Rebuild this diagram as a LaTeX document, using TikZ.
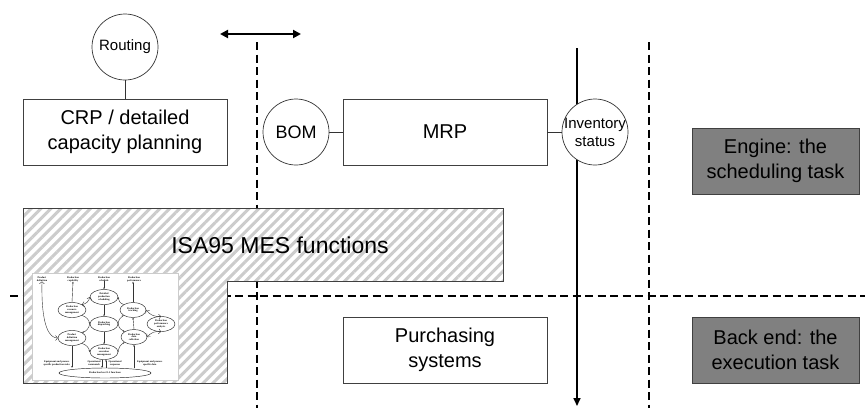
\documentclass[tikz,border=0pt]{standalone}
\usepackage{fontspec}
\setmainfont{Liberation Sans}
\newfontfamily\modelfont{Liberation Serif}
\usetikzlibrary{arrows.meta,patterns.meta,shapes.geometric,positioning}

\begin{document}
\begin{tikzpicture}[x=1pt, y=-1pt,
  box/.style={draw=black!75, line width=0.8pt, fill=white, minimum width=204pt,
    minimum height=66pt, align=center, font=\fontsize{20}{25}\selectfont},
  task/.style={box, fill=black!50, draw=black!75, minimum width=167pt},
  disc/.style={circle, draw=black!80, line width=0.7pt, fill=white,
    minimum size=66pt, inner sep=0pt, font=\fontsize{15}{18}\selectfont},
  link/.style={draw=black!80, line width=0.7pt},
  divider/.style={line width=2.6pt, dash pattern=on 8pt off 4.5pt},
  % the small ISA-95 activity model
  act/.style={ellipse, draw=black!85, line width=0.45pt, fill=white, minimum width=28pt,
    minimum height=15pt, inner sep=0pt, align=center,
    font=\modelfont\bfseries\fontsize{2.5}{2.8}\selectfont},
  tag/.style={align=center, inner sep=0pt,
    font=\modelfont\bfseries\fontsize{2.5}{2.8}\selectfont},
  flow/.style={-{Stealth[length=1.8pt,width=1.6pt]}, draw=black!80, line width=0.4pt}]

  \useasboundingbox (0,0) rectangle (865,408);

  % layer dividers
  \coordinate (v1 top) at (257,42);
  \coordinate (v1 end) at (257,408);
  \coordinate (v2 top) at (649,42);
  \coordinate (v2 end) at (649,408);
  \coordinate (h left) at (10,296);
  \coordinate (h right) at (865,296);
  \draw[divider] (v1 top) -- (v1 end);
  \draw[divider] (v2 top) -- (v2 end);
  \draw[divider] (h left) -- (h right);

  % MES area
  \draw[draw=black!75, line width=0.8pt, preaction={fill=white},
    pattern={Lines[angle=45, distance=7pt, line width=3pt]}, pattern color=black!20]
    (23,208) -- (503,208) -- (503,281) -- (227,281) -- (227,383) -- (23,383) -- cycle;
  \node[font=\fontsize{23}{28}\selectfont] (mes) at (280,245) {ISA95 MES functions};

  \draw[black!20, line width=0.4pt, fill=white] (32,273) rectangle (178,380);
  \node[tag] (pd) at (42,279) {Product\\definition};
  \node[tag] (pc) at (73,279) {Production\\capability};
  \node[tag] (ps) at (104,279) {Production\\schedule};
  \node[tag] (pp) at (134,279) {Production\\performance};
  \node[act] (dps) at (104,297) {Detailed\\production\\scheduling};
  \node[act] (prm) at (72,310) {Production\\resource\\management};
  \node[act, minimum width=26pt] (ptr) at (133,310) {Production\\tracking};
  \node[act] (ppa) at (161,324) {Production\\performance\\analysis};
  \node[act] (pdi) at (104,324) {Production\\dispatching};
  \node[act] (pdm) at (72,338) {Product\\definition\\management};
  \node[act, minimum width=26pt] (pdc) at (134,337) {Production\\data\\collection};
  \node[act] (pem) at (104,352) {Production\\execution\\management};
  \node[act, minimum width=92pt, minimum height=10pt] (lvl) at (105,373)
    {Production level 1-2 functions};
  \node[tag, anchor=east] (rules) at (70,363) {Equipment and process\\specific production rules};
  \node[tag] (cmd) at (94,363) {Operational\\commands};
  \node[tag] (rsp) at (115,363) {Operational\\responses};
  \node[tag, anchor=west] (data) at (137,363) {Equipment and process\\specific data};

  \draw[flow, <->] (pd.south) .. controls (41,328) and (50,338) .. (pdm.west);
  \draw[flow] (prm.north) -- (pc.south);
  \draw[flow] (ps.south) -- (dps.north);
  \draw[flow] (ptr.north) -- (ptr.north |- pp.south);
  \draw[flow] (dps.south) -- (pdi.north);
  \draw[flow] (pdi.south) -- (pem.north);
  \draw[flow] (pdc.north) -- (ptr.south);
  \draw[flow] (lvl.north -| pdc) -- (pdc.south);
  \draw[flow] (pdm.south) -- (pdm.south |- lvl.north);
  \draw[flow] ([xshift=-2pt]pem.south) -- ([xshift=-2pt]pem.south |- lvl.north);
  \draw[flow] ([xshift=2pt]pem.south |- lvl.north) -- ([xshift=2pt]pem.south);
  \draw[flow, <->] (dps.west) to[bend left=35] (prm.north east);
  \draw[flow] (ptr.north west) to[bend left=35] (dps.east);
  \draw[flow] (prm.south east) to[bend left=30] (pdi.west);
  \draw[flow] (pdi.east) to[bend left=30] (ptr.south west);
  \draw[flow] (pdi.west) to[bend left=30] (pdm.north east);
  \draw[flow] (pdi.east) to[bend right=30] (pdc.north west);
  \draw[flow] (pdm.south east) to[bend left=30] (pem.west);
  \draw[flow] (pem.east) to[bend left=30] (pdc.south west);
  \draw[flow, <->] (ptr.east) to[bend right=30] (ppa.north);
  \draw[flow, <->] (ppa.south) to[bend right=30] (pdc.east);

  % planning shift and stock flow
  \coordinate (shift l) at (220,34);
  \coordinate (shift r) at (301,34);
  \draw[line width=2pt, {Triangle[length=8pt,width=8pt]}-{Triangle[length=8pt,width=8pt]}]
    (shift l) -- (shift r);
  \coordinate (stock top) at (577,48);
  \coordinate (stock end) at (577,406);
  \draw[line width=1.6pt, -{Triangle[length=8pt,width=7pt]}] (stock top) -- (stock end);

  % planning nodes
  \node[disc] (routing) at (125,47) {Routing};
  \node[box] (crp) at (125,132) {CRP / detailed\\capacity planning};
  \node[disc, font=\fontsize{18}{22}\selectfont] (bom) at (296,132) {BOM};
  \node[box] (mrp) at (445,132) {MRP};
  \node[disc, label={[align=center, font=\fontsize{15}{18}\selectfont]center:{Inventory\\status}}]
    (inv) at (595,132) {};
  \node[box] (purch) at (445,350) {Purchasing\\systems};
  \draw[link] (routing) -- (crp);
  \draw[link] (bom) -- (mrp);
  \draw[link] (mrp) -- (inv);

  \node[task] (engine) at (775.5,161) {Engine: the\\scheduling task};
  \node[task] (backend) at (775.5,350) {Back end: the\\execution task};
\end{tikzpicture}
\end{document}
